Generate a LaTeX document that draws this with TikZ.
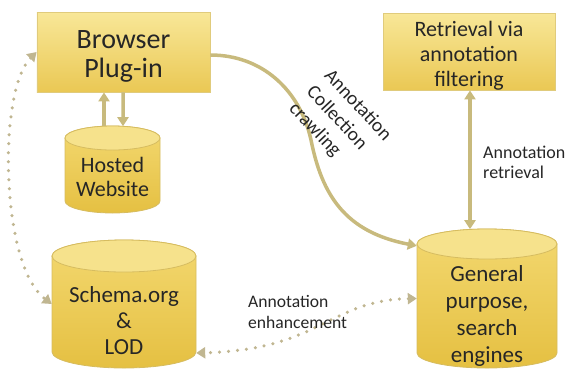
\documentclass[tikz,border=0pt]{standalone}
\usepackage{fontspec}
\setmainfont{Carlito}
\usetikzlibrary{arrows.meta,calc}
\definecolor{boxtop}{RGB}{248,231,152}
\definecolor{boxbot}{RGB}{234,200,84}
\definecolor{boxedge}{RGB}{224,203,124}
\definecolor{cyltopc}{RGB}{246,226,140}
\definecolor{cylbodyA}{RGB}{243,216,112}
\definecolor{cylbodyB}{RGB}{229,192,66}
\definecolor{cyledge}{RGB}{214,188,96}
\definecolor{arrcol}{RGB}{200,186,125}
\definecolor{dotcol}{RGB}{192,182,145}
\definecolor{txt}{RGB}{38,38,38}
\newcommand\drawcyl[6]{% name, cx, top, bottom, rx, ry
  \path[top color=cylbodyA, bottom color=cylbodyB, draw=cyledge, line width=0.8bp]
    ({#2-#5},{#3+#6}) -- ({#2-#5},{#4-#6})
    arc[start angle=180,end angle=360,x radius=#5bp,y radius=#6bp]
    -- ({#2+#5},{#3+#6})
    arc[start angle=0,end angle=180,x radius=#5bp,y radius=#6bp] -- cycle;
  \path[fill=cyltopc, draw=cyledge, line width=0.8bp] (#2,{#3+#6}) ellipse[x radius=#5bp, y radius=#6bp];
  \node[inner sep=0pt, minimum width={2*#5bp}, minimum height={(#4-#3)*1bp}] (#1) at (#2,{(#3+#4)/2}) {};
}
\begin{document}
\begin{tikzpicture}[x=1bp,y=-1bp,
  tipA/.tip={Triangle[length=9bp,width=11bp]},
  box/.style={draw=boxedge, line width=0.8bp, top color=boxtop, bottom color=boxbot, inner sep=0pt},
  lbl/.style={text=txt, inner sep=0pt},
  arr/.style={draw=arrcol, line width=3.5bp, -tipA},
  arrboth/.style={draw=arrcol, line width=3.5bp, tipA-tipA},
  dotarr/.style={draw=dotcol, line width=3.5bp, line cap=round, dash pattern=on 0bp off 9bp, tipA-tipA}]
\useasboundingbox (0,0) rectangle (574,377);

% boxes
\node[box, minimum width=173bp, minimum height=80bp] (browser) at (123.5,52) {};
\node[lbl, align=center, font=\fontsize{28bp}{29bp}\selectfont] (browsertxt) at (123.5,56.3) {Browser\\Plug-in};
\node[box, minimum width=172bp, minimum height=77bp] (retr) at (469,51.5) {};
\node[lbl, align=center, font=\fontsize{22bp}{25bp}\selectfont] (retrtxt) at (469,55.5) {Retrieval via\\annotation\\filtering};

% cylinders
\drawcyl{hosted}{112.5}{126}{213}{47.5}{12}
\node[lbl, align=center, font=\fontsize{22bp}{24bp}\selectfont] (hostedtxt) at (112.5,177) {Hosted\\Website};
\drawcyl{schema}{124}{240}{368}{72}{16}
\node[lbl, align=center, font=\fontsize{23bp}{26bp}\selectfont] (schematxt) at (124,321) {Schema.org\\\&\\LOD};
\drawcyl{general}{487}{229}{368}{70}{15}
\node[lbl, align=center, font=\fontsize{23bp}{26.7bp}\selectfont] (generaltxt) at (487,316) {General\\purpose,\\search\\engines};

% connectors
\draw[arr] ($(hosted.north)+(-8.5,0.3)$) -- ($(browser.south)+(-19.5,0)$);
\draw[arr] ($(browser.south)+(-0.5,0)$) -- ($(hosted.north)+(10.5,0.4)$);
\draw[arr] ($(browser.east)+(0,3)$) .. controls (262,55) and (300,90) .. (311,140)
  .. controls (322,195) and (345,232) .. ($(general.north west)+(0,17)$);
\draw[arrboth] ($(retr.south)+(1,0)$) -- ($(general.north)+(-17,0.4)$);
\draw[dotarr] (browser.west) .. controls (-2,90) and (0,265) .. (schema.west);
\draw[dotarr] (general.west) .. controls (330,300) and (320,350) .. ($(schema.east)+(0,49)$);

% labels
\node[lbl, align=left, anchor=west, font=\fontsize{18bp}{20bp}\selectfont] (retrlbl) at (483,162) {Annotation\\retrieval};
\node[lbl, align=left, anchor=west, font=\fontsize{17.6bp}{21bp}\selectfont] (enhlbl) at (248,311.5) {Annotation\\enhancement};
\node[lbl, align=left, rotate=-47, font=\fontsize{19.5bp}{24bp}\selectfont] (crawllbl) at (340,122) {Annotation\\Collection\\crawling};
\end{tikzpicture}
\end{document}
